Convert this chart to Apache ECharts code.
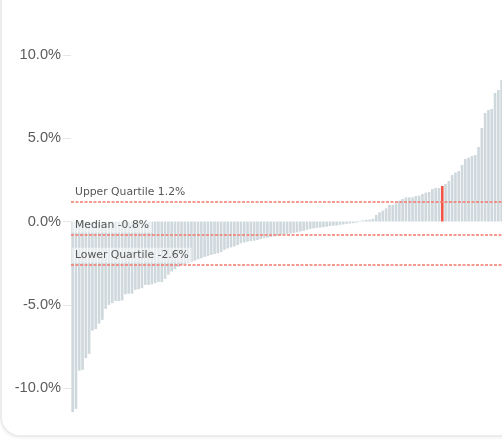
<!DOCTYPE html>
<html>
<head>
<meta charset="utf-8">
<script src="https://cdn.jsdelivr.net/npm/echarts@6/dist/echarts.min.js"></script>
<style>
html, body { margin: 0; padding: 0; width: 502px; height: 441px; overflow: hidden; background: #fff; }
#card { position: absolute; left: 0; top: -60px; width: 640px; height: 497px; box-sizing: border-box;
  border: 2px solid #ececec; border-radius: 20px; box-shadow: 0 1px 3px rgba(0,0,0,0.06); }
#chart { position: absolute; left: 0; top: -60px; width: 540px; height: 560px; }
</style>
</head>
<body>
<div id="card"></div>
<div id="chart"></div>
<script>
// Sorted returns (%), left to right
const values = [
  -11.44, -11.24, -8.95, -8.90, -8.20, -7.94, -6.55, -6.45, -6.13, -5.90,
  -5.24, -5.00, -4.90, -4.77, -4.77, -4.74, -4.37, -4.33, -4.33, -4.10,
  -4.06, -4.00, -3.80, -3.80, -3.77, -3.70, -3.63, -3.63, -3.45, -3.19, -3.00,
  -2.86, -2.72, -2.62, -2.55, -2.50, -2.42, -2.35, -2.27, -2.20, -2.12, -2.06, -2.00, -1.95, -1.90,
  -1.83, -1.70, -1.62, -1.55, -1.50, -1.41, -1.31, -1.26, -1.21, -1.17, -1.15, -1.11, -1.05, -1.00,
  -0.97, -0.93, -0.90, -0.85, -0.81, -0.78, -0.75, -0.72, -0.68, -0.65, -0.60, -0.56, -0.50, -0.44,
  -0.41, -0.38, -0.36, -0.34, -0.31, -0.27, -0.25, -0.24, -0.20, -0.18, -0.14, -0.12, -0.10, -0.07,
  0.04, 0.07, 0.10, 0.12, 0.16, 0.39, 0.55, 0.65,
  0.79, 1.00, 1.00, 1.09, 1.25, 1.35, 1.45, 1.45, 1.45, 1.53, 1.55, 1.65, 1.73, 1.77, 1.95, 2.01, 2.01,
  2.13,
  2.25, 2.43, 2.79, 2.93, 3.03, 3.39, 3.75, 3.83, 3.93, 3.99, 4.47, 5.61, 6.51, 6.69, 6.75, 7.71, 7.89, 8.49
];
const categories = values.map((v, i) => String(i + 1));
const highlightIndex = 112;
const markNames = ['Upper Quartile', 'Median', 'Lower Quartile'];
const markValues = [1.2, -0.8, -2.6];
const yMin = -15, yMax = 15, yInterval = 5;

const chart = echarts.init(document.getElementById('chart'), null, { renderer: 'canvas' });
const data = values.map((v, i) => i === highlightIndex
  ? { value: v, itemStyle: { color: '#f05545' } }
  : v);

chart.setOption({
  animation: false,
  grid: { left: 71, right: 36.7, top: 31.5, bottom: 28.5 },
  xAxis: {
    type: 'category', data: categories, show: false
  },
  yAxis: {
    type: 'value', min: yMin, max: yMax, interval: yInterval,
    axisLine: { show: false },
    axisTick: { show: true, length: 8, lineStyle: { color: '#e6e6e6' } },
    splitLine: { show: false },
    axisLabel: {
      margin: 10, color: '#5c5c5c', fontSize: 14.6, fontFamily: 'Liberation Sans',
      formatter: v => v.toFixed(1) + '%'
    }
  },
  series: [{
    type: 'bar',
    data: data,
    barCategoryGap: '20%',
    itemStyle: { color: '#cfd8dc' },
    markLine: {
      silent: true,
      symbol: 'none',
      lineStyle: { color: '#f3786e', type: [3, 1.5], width: 1.6 },
      label: {
        position: 'insideStartTop',
        distance: [1, 2],
        color: '#555',
        fontSize: 10.8,
        fontFamily: 'DejaVu Sans',
        backgroundColor: 'rgba(255,255,255,0.5)',
        padding: [2, 3, 2, 3],
        formatter: p => p.name + ' ' + p.value.toFixed(1) + '%'
      },
      data: markNames.map((n, i) => ({ name: n, yAxis: markValues[i] }))
    }
  }]
});
</script>
</body>
</html>
